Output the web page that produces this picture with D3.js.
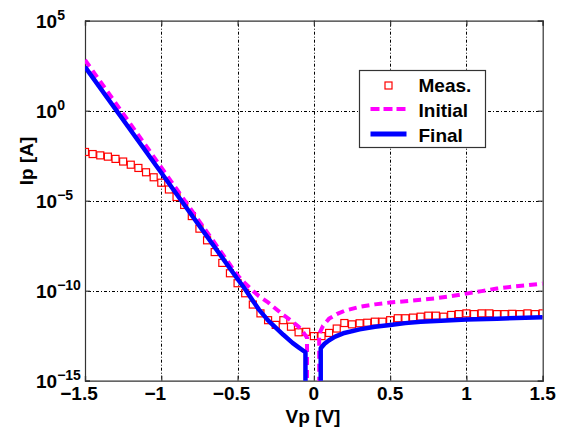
<!DOCTYPE html>
<html>
<head>
<meta charset="utf-8">
<script src="https://cdn.jsdelivr.net/npm/d3@7"></script>
<style>
  body { margin: 0; background: #fff; }
  svg text { font-family: "Liberation Sans", Arial, Helvetica, sans-serif; font-weight: bold; fill: #000; }
</style>
</head>
<body>
<div id="chart"></div>
<script>
// measured points, every 0.05 V
const measV = [-1.5, -1.45, -1.4, -1.35, -1.3, -1.25, -1.2, -1.15, -1.1, -1.05,
  -1.0, -0.95, -0.9, -0.85, -0.8, -0.75, -0.7, -0.65, -0.6, -0.55,
  -0.5, -0.45, -0.4, -0.35, -0.3, -0.25, -0.2, -0.15, -0.1, -0.05,
  0, 0.05, 0.1, 0.15, 0.2, 0.25, 0.3, 0.35, 0.4, 0.45,
  0.5, 0.55, 0.6, 0.65, 0.7, 0.75, 0.8, 0.85, 0.9, 0.95,
  1.0, 1.05, 1.1, 1.15, 1.2, 1.25, 1.3, 1.35, 1.4, 1.45, 1.5];
const measI = [5.1e-3, 3.9e-3, 3.3e-3, 2.8e-3, 2.1e-3, 1.5e-3, 1.0e-3, 6.6e-4, 3.8e-4, 2.0e-4,
  1.0e-4, 4.2e-5, 1.6e-5, 5.8e-6, 1.4e-6, 2.8e-7, 6.3e-8, 1.4e-8, 3.5e-9, 9.3e-10,
  2.6e-10, 7.2e-11, 1.7e-11, 5.5e-12, 2.3e-12, 1.26e-12, 2.3e-12, 1.0e-12, 4.9e-13, 5.2e-13,
  3.0e-13, 3.0e-13, 4.5e-13, 7.9e-13, 1.6e-12, 1.35e-12, 1.55e-12, 1.66e-12, 1.9e-12, 1.9e-12,
  2.3e-12, 2.95e-12, 2.95e-12, 3.2e-12, 3.6e-12, 4.1e-12, 4.1e-12, 3.6e-12, 4.5e-12, 5.0e-12,
  5.5e-12, 5.0e-12, 5.5e-12, 5.5e-12, 5.0e-12, 5.0e-12, 5.2e-12, 5.0e-12, 5.5e-12, 5.0e-12, 5.5e-12];

// initial model (1e-17 = current crosses zero, below the axis)
const initV = [-1.5, -1.0, -0.5, -0.45, -0.4, -0.36, -0.3, -0.25, -0.2, -0.14, -0.1, -0.07, -0.045, -0.045,
  0.035, 0.035, 0.06, 0.1, 0.15, 0.2, 0.3, 0.4, 0.5, 0.6, 0.7, 0.8, 0.9, 1.0, 1.1, 1.2, 1.3, 1.4, 1.5];
const initI = [6.6e2, 7.1e-4, 7.1e-10, 2.5e-10, 1.0e-10, 5.0e-11, 2.24e-11, 1.0e-11, 4.5e-12, 1.9e-12, 1.0e-12, 5.0e-13, 2.5e-13, 1e-17,
  1e-17, 4.0e-13, 1.12e-12, 2.8e-12, 5.0e-12, 7.6e-12, 1.26e-11, 1.74e-11, 2.2e-11, 2.6e-11, 3.16e-11, 3.8e-11, 5.0e-11, 6.9e-11, 9.5e-11, 1.32e-10, 1.66e-10, 2.0e-10, 2.5e-10];

// final model
const finalV = [-1.5, -1.0, -0.5, -0.45, -0.4, -0.36, -0.3, -0.25, -0.2, -0.14, -0.1, -0.055, -0.055,
  0.045, 0.045, 0.07, 0.1, 0.14, 0.2, 0.3, 0.4, 0.5, 0.6, 0.7, 0.8, 0.9, 1.0, 1.2, 1.5];
const finalI = [2.75e2, 3.55e-4, 4.5e-10, 1.2e-10, 2.8e-11, 8.9e-12, 2.24e-12, 8.9e-13, 3.55e-13, 1.26e-13, 7.1e-14, 3.8e-14, 1e-17,
  1e-17, 6.3e-14, 1.12e-13, 1.78e-13, 2.8e-13, 4.5e-13, 7.1e-13, 1.0e-12, 1.26e-12, 1.58e-12, 1.9e-12, 2.1e-12, 2.3e-12, 2.5e-12, 2.8e-12, 3.3e-12];

const xTicks = [-1.5, -1, -0.5, 0, 0.5, 1, 1.5];
const xTickLabels = ["\u22121.5", "\u22121", "\u22120.5", "0", "0.5", "1", "1.5"];
const yTicks = [1e5, 1e0, 1e-5, 1e-10, 1e-15];
const yTickExp = ["5", "0", "\u22125", "\u221210", "\u221215"];

const legendItems = ["Meas.", "Initial", "Final"];

const W = 562, H = 430;
const plot = {left: 85, right: 542.7, top: 20.7, bottom: 380.7};

const svg = d3.select('#chart').append('svg')
  .attr('width', W)
  .attr('height', H);

const x = d3.scaleLinear().domain([-1.5, 1.5]).range([plot.left, plot.right]);
const y = d3.scaleLog().domain([1e-15, 1e5]).range([plot.bottom, plot.top]);

svg.append('defs').append('clipPath').attr('id', 'clip')
  .append('rect')
  .attr('x', plot.left).attr('y', plot.top)
  .attr('width', plot.right - plot.left).attr('height', plot.bottom - plot.top);

// grid
let grid = svg.append('g').attr('class', 'grid')
  .attr('stroke', '#000').attr('stroke-width', 1).attr('stroke-dasharray', '1,2,3,2');
grid.selectAll('.gx').data(xTicks.slice(1, -1)).enter().append('line')
  .attr('x1', d => Math.round(x(d)) + 0.5).attr('x2', d => Math.round(x(d)) + 0.5)
  .attr('y1', plot.top).attr('y2', plot.bottom);
grid.selectAll('.gy').data(yTicks.slice(1, -1)).enter().append('line')
  .attr('y1', d => Math.round(y(d)) + 0.5).attr('y2', d => Math.round(y(d)) + 0.5)
  .attr('x1', plot.left).attr('x2', plot.right);

// axes with inward ticks on all four sides
const axisColor = '#333';
let gB = svg.append('g').attr('transform', 'translate(0,' + plot.bottom + ')')
  .call(d3.axisBottom(x).tickValues(xTicks).tickSize(-5).tickFormat(''));
let gT = svg.append('g').attr('transform', 'translate(0,' + plot.top + ')')
  .call(d3.axisTop(x).tickValues(xTicks).tickSize(-5).tickFormat(''));
let gL = svg.append('g').attr('transform', 'translate(' + plot.left + ',0)')
  .call(d3.axisLeft(y).tickValues(yTicks).tickSize(-5).tickFormat(''));
let gR = svg.append('g').attr('transform', 'translate(' + plot.right + ',0)')
  .call(d3.axisRight(y).tickValues(yTicks).tickSize(-5).tickFormat(''));
[gB, gT, gL, gR].forEach(g => {
  g.selectAll('path, line').attr('stroke', axisColor).attr('stroke-width', 1.2);
});

// tick labels
svg.append('g').selectAll('text').data(xTicks).enter().append('text')
  .attr('x', d => x(d) - (d < 0 ? 6 : 0))
  .attr('y', 400)
  .attr('text-anchor', 'middle')
  .attr('font-size', 19)
  .text((d, i) => xTickLabels[i]);

let yl = svg.append('g').selectAll('text').data(yTicks).enter().append('text')
  .attr('x', 36)
  .attr('y', d => y(d) + 7)
  .attr('font-size', 19);
yl.append('tspan').text('10');
yl.append('tspan').attr('dy', -8).attr('font-size', 14).text((d, i) => yTickExp[i]);

// axis titles
svg.append('text')
  .attr('x', 313).attr('y', 423)
  .attr('text-anchor', 'middle')
  .attr('font-size', 19)
  .text('Vp [V]');
svg.append('text')
  .attr('transform', 'translate(33,161) rotate(-90)')
  .attr('text-anchor', 'middle')
  .attr('font-size', 19)
  .text('Ip [A]');

// series
let series = svg.append('g').attr('clip-path', 'url(#clip)');
const line = d3.line().x(d => x(d[0])).y(d => y(d[1]));

series.selectAll('.meas').data(d3.zip(measV, measI)).enter().append('rect')
  .attr('class', 'meas')
  .attr('x', d => x(d[0]) - 3.5).attr('y', d => y(d[1]) - 3.5)
  .attr('width', 7).attr('height', 7)
  .attr('fill', 'none').attr('stroke', '#ff0000').attr('stroke-width', 1.2);

series.append('path').datum(d3.zip(initV, initI))
  .attr('d', line)
  .attr('fill', 'none').attr('stroke', '#ff00ff').attr('stroke-width', 4)
  .attr('stroke-dasharray', '8,5');

series.append('path').datum(d3.zip(finalV, finalI))
  .attr('d', line)
  .attr('fill', 'none').attr('stroke', '#0000ff').attr('stroke-width', 4.5)
  .attr('stroke-linejoin', 'round');

// legend
let lg = svg.append('g').attr('transform', 'translate(359.5,70.5)');
lg.append('rect').attr('width', 126).attr('height', 77)
  .attr('fill', '#fff').attr('stroke', '#333').attr('stroke-width', 1.2);
lg.append('rect').attr('x', 25.5).attr('y', 11.5).attr('width', 7).attr('height', 7)
  .attr('fill', 'none').attr('stroke', '#ff0000').attr('stroke-width', 1.2);
lg.append('line').attr('x1', 11).attr('x2', 47).attr('y1', 38.5).attr('y2', 38.5)
  .attr('stroke', '#ff00ff').attr('stroke-width', 4).attr('stroke-dasharray', '9,4');
lg.append('line').attr('x1', 11).attr('x2', 47).attr('y1', 63.5).attr('y2', 63.5)
  .attr('stroke', '#0000ff').attr('stroke-width', 5);
lg.selectAll('.lt').data(legendItems).enter().append('text')
  .attr('x', 59).attr('y', (d, i) => 21.5 + i * 24.8)
  .attr('font-size', 19)
  .text(d => d);
</script>
</body>
</html>
